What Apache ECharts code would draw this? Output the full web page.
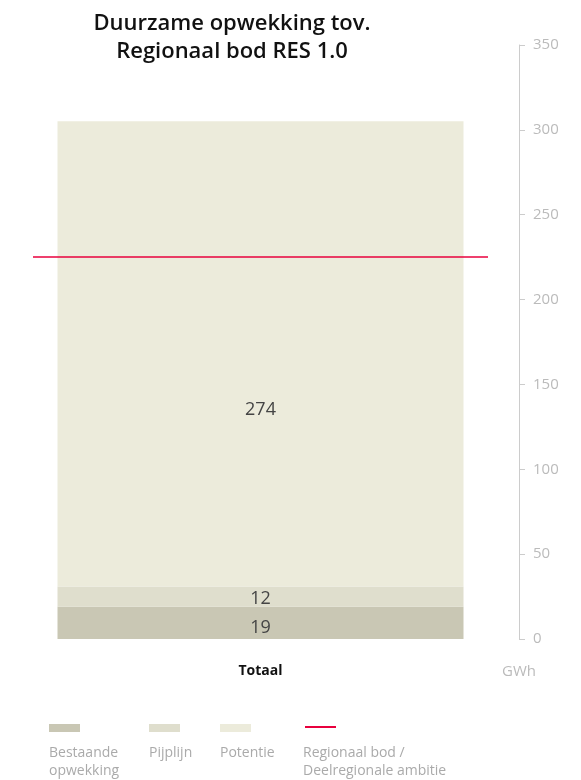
<!DOCTYPE html>
<html>
<head>
<meta charset="utf-8">
<style>html,body{margin:0;padding:0;background:#fff}#c{width:581px;height:780px}</style>
<script src="https://cdn.jsdelivr.net/npm/echarts@6/dist/echarts.min.js"></script>
</head>
<body>
<div id="c"></div>
<script>
const categories = ['Totaal'];
const seriesNames = ['Bestaande\nopwekking', 'Pijplijn', 'Potentie'];
const bestaande = [19];
const pijplijn = [12];
const potentie = [274];
const ambitieName = 'Regionaal bod /\nDeelregionale ambitie';
const ambitie = 225;
const yTicks = [0, 50, 100, 150, 200, 250, 300, 350];
const colors = ['#c9c7b4', '#dfdecd', '#ecebdb'];
const red = '#e8003d';
const font = '"Open Sans"';

const chart = echarts.init(document.getElementById('c'));

const labelStyle = {show: true, position: 'inside', color: '#444', fontSize: 18, fontFamily: font};

const legendX = [49, 149, 220, 303];
const legendGraphics = [];
seriesNames.forEach((n, i) => {
  legendGraphics.push({type: 'rect', left: legendX[i], top: 724, shape: {width: 31, height: 8}, style: {fill: colors[i]}});
  legendGraphics.push({type: 'text', left: legendX[i], top: 744, style: {text: n, fill: '#aaa', font: '14px ' + font, lineHeight: 18}});
});
legendGraphics.push({type: 'rect', left: legendX[3] + 2, top: 726, shape: {width: 31, height: 2}, style: {fill: red}});
legendGraphics.push({type: 'text', left: legendX[3], top: 744, style: {text: ambitieName, fill: '#aaa', font: '14px ' + font, lineHeight: 18}});

chart.setOption({
  animation: false,
  title: {
    text: 'Duurzame opwekking tov.\nRegionaal bod RES 1.0',
    left: 227, top: 5, textAlign: 'center',
    textStyle: {fontSize: 22, fontWeight: 600, color: '#111', fontFamily: font, lineHeight: 28}
  },
  grid: {left: 33, right: 93, top: 45, bottom: 141},
  xAxis: {
    type: 'category', data: categories,
    axisLine: {show: false}, axisTick: {show: false},
    axisLabel: {margin: 25, color: '#111', fontWeight: 'bold', fontSize: 14, fontFamily: font}
  },
  yAxis: {
    type: 'value', position: 'right', offset: 31,
    min: yTicks[0], max: yTicks[yTicks.length - 1], interval: 50,
    name: 'GWh', nameLocation: 'start', nameGap: 25,
    nameTextStyle: {color: '#bbb', fontSize: 15, fontFamily: font, align: 'center'},
    axisLine: {show: true, lineStyle: {color: '#ccc'}},
    axisTick: {show: true, length: 6, lineStyle: {color: '#ccc'}},
    axisLabel: {margin: 14, color: '#bbb', fontSize: 15, fontFamily: font},
    splitLine: {show: false}
  },
  series: [
    {name: seriesNames[0], type: 'bar', stack: 't', data: bestaande, barWidth: 406,
     itemStyle: {color: colors[0]}, label: Object.assign({}, labelStyle, {offset: [0, 5]})},
    {name: seriesNames[1], type: 'bar', stack: 't', data: pijplijn, barWidth: 406,
     itemStyle: {color: colors[1]}, label: Object.assign({}, labelStyle, {offset: [0, 2]})},
    {name: seriesNames[2], type: 'bar', stack: 't', data: potentie, barWidth: 406,
     itemStyle: {color: colors[2]}, label: Object.assign({}, labelStyle, {offset: [0, 56]})},
    {name: ambitieName, type: 'line', data: [],
     markLine: {silent: true, symbol: 'none', label: {show: false},
       lineStyle: {color: red, width: 1.5, type: 'solid'}, data: [{yAxis: ambitie}]}}
  ],
  graphic: legendGraphics
});
</script>
</body>
</html>
